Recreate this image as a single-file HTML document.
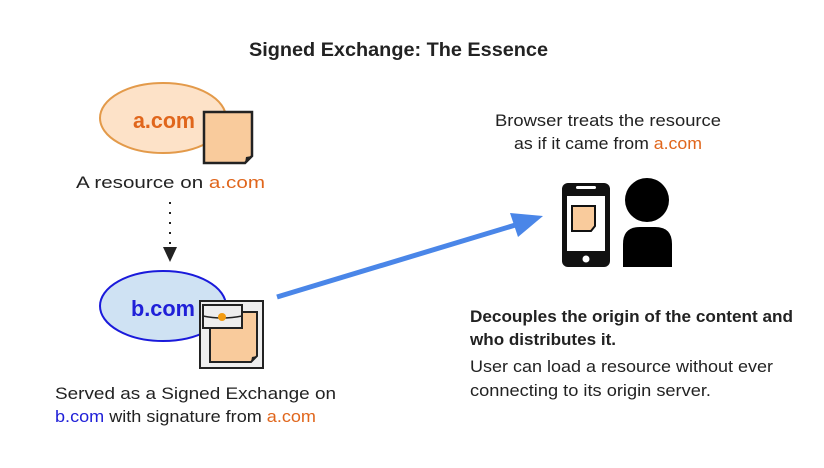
<!DOCTYPE html>
<html><head><meta charset="utf-8"><style>
html,body{margin:0;padding:0;background:#fff;}
svg{display:block;}
text{font-family:"Liberation Sans",sans-serif;fill:#222;}
.o{fill:#e0661c;}
.b{fill:#2020d8;}
</style></head><body>
<svg width="824" height="468" viewBox="0 0 824 468">
<text x="249" y="56" font-size="19" font-weight="bold" textLength="299" lengthAdjust="spacingAndGlyphs">Signed Exchange: The Essence</text>

<!-- a.com -->
<ellipse cx="163" cy="118" rx="63" ry="35" fill="#fde2c8" stroke="#e39a4a" stroke-width="2"/>
<text x="133" y="128" font-size="22" font-weight="bold" class="o" textLength="62" lengthAdjust="spacingAndGlyphs">a.com</text>
<path d="M204 112 H252 V156 L245 163 H204 Z" fill="#f9cb9c" stroke="#222" stroke-width="2.5"/>
<path d="M245 163 L246 157 L252 156 Z" fill="#222"/>
<text x="76" y="188" font-size="17" textLength="189" lengthAdjust="spacingAndGlyphs">A resource on <tspan class="o">a.com</tspan></text>

<!-- dotted arrow -->
<line x1="170" y1="202" x2="170" y2="244" stroke="#222" stroke-width="2" stroke-dasharray="2,8"/>
<path d="M163 247 L177 247 L170 262 Z" fill="#222"/>

<!-- b.com -->
<ellipse cx="163" cy="306" rx="63" ry="35" fill="#cfe2f3" stroke="#1a1adb" stroke-width="2"/>
<text x="131" y="316" font-size="22" font-weight="bold" class="b" textLength="64" lengthAdjust="spacingAndGlyphs">b.com</text>
<rect x="200" y="301" width="63" height="67" fill="#eee" stroke="#222" stroke-width="2"/>
<path d="M210 312 H257 V356 L251 362 H210 Z" fill="#f9cb9c" stroke="#222" stroke-width="2"/>
<path d="M251 362 L252 357 L257 356 Z" fill="#222"/>
<rect x="203" y="305" width="39" height="23" fill="#eee" stroke="#222" stroke-width="2"/>
<path d="M203 316 Q222 320 242 316" fill="none" stroke="#222" stroke-width="1.5"/>
<circle cx="222" cy="317" r="4" fill="#f39c12"/>
<text x="55" y="399" font-size="17" textLength="281" lengthAdjust="spacingAndGlyphs">Served as a Signed Exchange on</text>
<text x="55" y="422" font-size="17" textLength="261" lengthAdjust="spacingAndGlyphs"><tspan class="b">b.com</tspan> with signature from <tspan class="o">a.com</tspan></text>

<!-- blue arrow -->
<line x1="277" y1="297" x2="522" y2="223" stroke="#4a86e8" stroke-width="5"/>
<path d="M543 216 L510 213 L518 237 Z" fill="#4a86e8"/>

<!-- browser text -->
<text x="495" y="126" font-size="17" textLength="226" lengthAdjust="spacingAndGlyphs">Browser treats the resource</text>
<text x="514" y="149" font-size="17" textLength="188" lengthAdjust="spacingAndGlyphs">as if it came from <tspan class="o">a.com</tspan></text>

<!-- phone -->
<rect x="562" y="183" width="48" height="84" rx="6" fill="#111"/>
<rect x="567" y="196" width="38" height="55" fill="#fff"/>
<rect x="576" y="186" width="20" height="3" rx="1.5" fill="#fff"/>
<circle cx="586" cy="259" r="3.5" fill="#fff"/>
<path d="M572 206 H595 V226 L591 231 H572 Z" fill="#f9cb9c" stroke="#111" stroke-width="2"/>
<!-- person -->
<circle cx="647" cy="200" r="22" fill="#000"/>
<path d="M623 267 V244 Q623 227 640 227 H655 Q672 227 672 244 V267 Z" fill="#000"/>

<!-- bottom right text -->
<text x="470" y="322" font-size="17" font-weight="bold" textLength="323" lengthAdjust="spacingAndGlyphs">Decouples the origin of the content and</text>
<text x="470" y="345" font-size="17" font-weight="bold" textLength="146" lengthAdjust="spacingAndGlyphs">who distributes it.</text>
<text x="470" y="372" font-size="17" textLength="303" lengthAdjust="spacingAndGlyphs">User can load a resource without ever</text>
<text x="470" y="396" font-size="17" textLength="241" lengthAdjust="spacingAndGlyphs">connecting to its origin server.</text>
</svg>
</body></html>
